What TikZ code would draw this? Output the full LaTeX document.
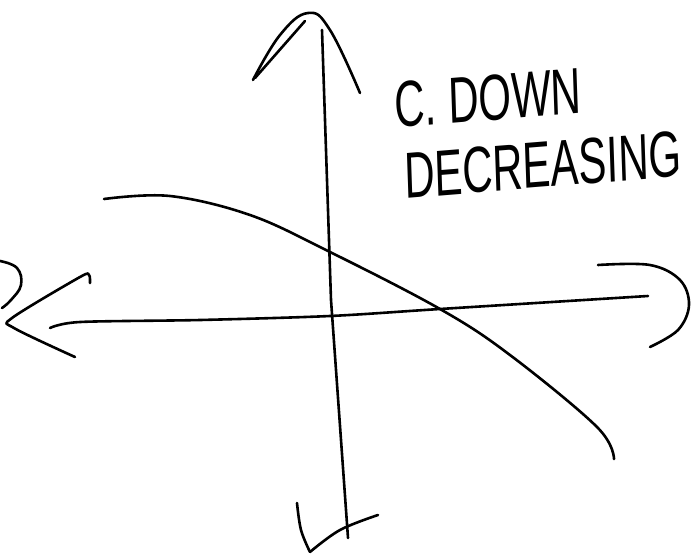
\documentclass[tikz,border=0pt]{standalone}
\usepackage{fontspec}
\setmainfont{Liberation Sans}
\begin{document}
\begin{tikzpicture}[x=1pt,y=-1pt,
  ink/.style={line width=2.6pt,line cap=round,line join=round,black},
  hand/.style={font=\fontsize{42}{42}\selectfont,inner sep=0pt,yscale=1.55}]
\useasboundingbox (0,0) rectangle (694,555);
% vertical axis
\draw[ink] (322,30) -- (331,300) -- (348,538);
% top arrowhead
\draw[ink] plot[smooth,tension=0.7] coordinates {(253,80) (280,35) (308,13) (330,30) (360,93)};
\draw[ink] (255,78) -- (305,21);
% bottom arrowhead
\draw[ink] plot[smooth,tension=0.6] coordinates {(297,503) (301,530) (310,552)};
\draw[ink] plot[smooth,tension=0.6] coordinates {(310,552) (340,530) (378,515)};
% horizontal axis
\draw[ink] plot[smooth,tension=0.5] coordinates {(50,328) (80,322) (200,320) (330,316) (440,309) (648,296)};
% left arrowhead
\draw[ink] plot[smooth,tension=0.5] coordinates {(90,283) (89,275) (80,277) (12,318) (14,328) (75,357)};
% left partial bracket
\draw[ink] plot[smooth,tension=0.7] coordinates {(0,261) (17,268) (21,285) (11,300) (2,308)};
% right arrowhead
\draw[ink] plot[smooth,tension=0.6] coordinates {(598,265) (650,265) (680,280) (689,305) (678,330) (650,347)};
% decreasing curve
\draw[ink] plot[smooth,tension=0.6] coordinates {(104,199) (170,196) (250,215) (328,251) (440,309) (510,355) (597,427) (614,459)};
% labels
\node[hand,rotate=3] (cdown) at (488,98) {C. DOWN};
\node[hand,rotate=3] (decr) at (543,165) {DECREASING};
\end{tikzpicture}
\end{document}
